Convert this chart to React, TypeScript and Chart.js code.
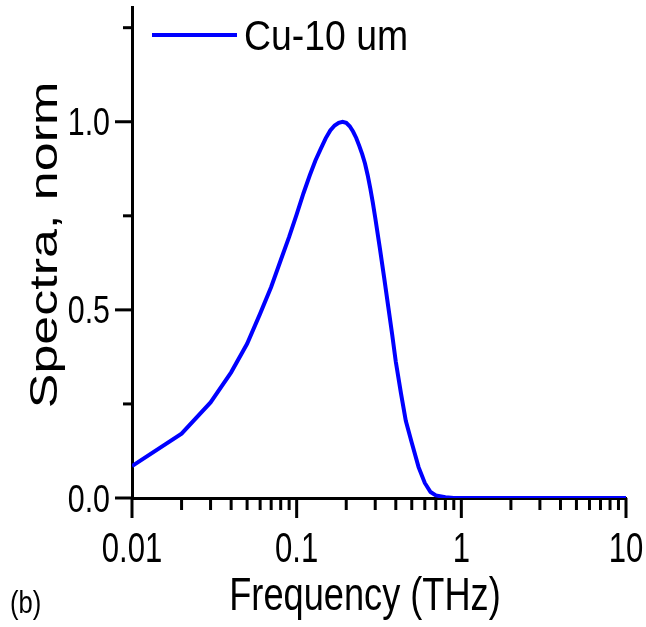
import React, { useEffect, useRef } from 'react';
import { Chart, registerables } from 'chart.js';

Chart.register(...registerables);

// ---- data ----
const frequencyTHz = [
  0.01, 0.02, 0.03, 0.04, 0.05, 0.06, 0.07, 0.08, 0.09, 0.1,
  0.11, 0.12, 0.13, 0.14, 0.15, 0.16, 0.17, 0.18, 0.19, 0.2,
  0.21, 0.22, 0.23, 0.24, 0.25, 0.26, 0.27, 0.28, 0.29, 0.3,
  0.32, 0.34, 0.36, 0.38, 0.4, 0.43, 0.46, 0.5, 0.55, 0.6,
  0.65, 0.7, 0.8, 0.9, 1, 2, 5, 10,
];
const spectraNorm = [
  0.085, 0.171, 0.254, 0.334, 0.41, 0.49, 0.561, 0.632, 0.694, 0.754,
  0.81, 0.857, 0.897, 0.928, 0.956, 0.977, 0.99, 0.997, 1.0, 0.997,
  0.988, 0.974, 0.957, 0.936, 0.914, 0.889, 0.858, 0.823, 0.785, 0.745,
  0.664, 0.585, 0.508, 0.435, 0.362, 0.278, 0.205, 0.147, 0.082, 0.04,
  0.016, 0.007, 0.002, 0.0, 0.0, 0.0, 0.0, 0.0,
];
const seriesLabel = 'Cu-10 um';
const seriesColor = '#0000FF';

const xMin = 0.01;
const xMax = 10;
const xMajorTicks = [0.01, 0.1, 1, 10];
const xTickLabels = ['0.01', '0.1', '1', '10'];
const yMin = 0;
const yMax = 1.305;
const yTickValues = [0, 0.25, 0.5, 0.75, 1.0, 1.25];
const yTickLabels = ['0.0', '', '0.5', '', '1.0', ''];
const xTitle = 'Frequency (THz)';
const yTitle = 'Spectra, norm';
const panelLabel = '(b)';

const SANS = "'Liberation Sans', Arial, sans-serif";

// minor + major x tick positions: every 1..9 multiple in each decade of the axis
function buildLogTicks(min: number, max: number): number[] {
  const out: number[] = [];
  const e0 = Math.round(Math.log10(min));
  const e1 = Math.round(Math.log10(max));
  for (let e = e0; e < e1; e++) {
    for (let m = 1; m <= 9; m++) out.push(parseFloat((m * Math.pow(10, e)).toPrecision(6)));
  }
  out.push(max);
  return out;
}
const xTickValues = buildLogTicks(xMin, xMax);

function isMajorX(v: number) {
  return xMajorTicks.some((m) => Math.abs(Math.log10(m) - Math.log10(v)) < 1e-6);
}
function xLabelFor(v: number) {
  const i = xMajorTicks.findIndex((m) => Math.abs(Math.log10(m) - Math.log10(v)) < 1e-6);
  return i >= 0 ? xTickLabels[i] : '';
}

function scaledText(
  ctx: CanvasRenderingContext2D,
  text: string,
  x: number,
  y: number,
  font: string,
  sx: number,
  align: CanvasTextAlign
) {
  ctx.save();
  ctx.translate(x, y);
  ctx.scale(sx, 1);
  ctx.font = font;
  ctx.textAlign = align;
  ctx.textBaseline = 'alphabetic';
  ctx.fillStyle = '#000';
  ctx.fillText(text, 0, 0);
  ctx.restore();
}

const decorPlugin = {
  id: 'decor',
  afterDraw(chart: any) {
    const ctx: CanvasRenderingContext2D = chart.ctx;
    const xs = chart.scales.x;
    const ys = chart.scales.y;
    const area = chart.chartArea;
    ctx.save();
    ctx.strokeStyle = '#000';
    ctx.lineWidth = 3;
    ctx.lineCap = 'butt';
    // x tick marks (outward) + labels
    xs.ticks.forEach((t: any) => {
      const px = xs.getPixelForValue(t.value);
      const len = isMajorX(t.value) ? 20 : 12;
      ctx.beginPath();
      ctx.moveTo(px, area.bottom);
      ctx.lineTo(px, area.bottom + len);
      ctx.stroke();
    });
    // y tick marks (outward)
    ys.ticks.forEach((t: any, i: number) => {
      const py = ys.getPixelForValue(t.value);
      const len = yTickLabels[i] ? 17 : 9;
      ctx.beginPath();
      ctx.moveTo(area.left, py);
      ctx.lineTo(area.left - len, py);
      ctx.stroke();
    });
    ctx.restore();

    // tick labels (condensed Arial-like, as in the reference)
    xs.ticks.forEach((t: any) => {
      if (!t.label) return;
      const px = xs.getPixelForValue(t.value);
      scaledText(ctx, String(t.label), px, area.bottom + 64, `42px ${SANS}`, 0.74, 'center');
    });
    ys.ticks.forEach((t: any) => {
      if (!t.label) return;
      const py = ys.getPixelForValue(t.value);
      scaledText(ctx, String(t.label), area.left - 22, py + 13.5, `38px ${SANS}`, 0.8, 'right');
    });

    // legend (inside plot)
    const ds = chart.data.datasets[0];
    ctx.save();
    ctx.strokeStyle = ds.borderColor;
    ctx.lineWidth = 4;
    ctx.beginPath();
    ctx.moveTo(152, 35);
    ctx.lineTo(237, 35);
    ctx.stroke();
    ctx.restore();
    scaledText(ctx, ds.label, 244, 50, `42px ${SANS}`, 0.89, 'left');

    // x title
    scaledText(ctx, xTitle, 365, 610, `47px ${SANS}`, 0.77, 'center');

    // y title (rotated)
    ctx.save();
    ctx.translate(57, 245);
    ctx.rotate(-Math.PI / 2);
    ctx.scale(1, 0.73);
    ctx.font = `52px ${SANS}`;
    ctx.textAlign = 'center';
    ctx.textBaseline = 'alphabetic';
    ctx.fillStyle = '#000';
    ctx.fillText(yTitle, 0, 0);
    ctx.restore();

    // panel label
    scaledText(ctx, panelLabel, 10, 613, `32px ${SANS}`, 0.8, 'left');
  },
};

export default function App() {
  const canvasRef = useRef<HTMLCanvasElement | null>(null);

  useEffect(() => {
    const canvas = canvasRef.current;
    if (!canvas) return;
    const chart = new Chart(canvas, {
      type: 'line',
      data: {
        datasets: [
          {
            label: seriesLabel,
            data: frequencyTHz.map((f, i) => ({ x: f, y: spectraNorm[i] })),
            borderColor: seriesColor,
            backgroundColor: seriesColor,
            borderWidth: 4,
            pointRadius: 0,
            tension: 0,
            fill: false,
          },
        ],
      },
      options: {
        responsive: false,
        animation: false,
        devicePixelRatio: 1,
        layout: { padding: { top: 7, right: 20, left: 0, bottom: 0 } },
        plugins: {
          legend: { display: false },
          tooltip: { enabled: false },
          title: { display: false },
        },
        scales: {
          x: {
            type: 'logarithmic',
            position: 'bottom',
            min: xMin,
            max: xMax,
            grid: { display: false },
            border: { display: true, color: '#000', width: 3 },
            ticks: {
              autoSkip: false,
              maxRotation: 0,
              minRotation: 0,
              color: 'rgba(0,0,0,0)',
              font: { family: SANS, size: 12 },
              callback: (v: any) => xLabelFor(Number(v)),
            },
            afterBuildTicks: (s: any) => {
              s.ticks = xTickValues.map((v) => ({ value: v }));
            },
            afterFit: (s: any) => {
              s.height = 129;
              s.paddingLeft = 0;
              s.paddingRight = 0;
            },
          },
          y: {
            type: 'linear',
            min: yMin,
            max: yMax,
            grid: { display: false },
            border: { display: true, color: '#000', width: 3 },
            ticks: {
              color: 'rgba(0,0,0,0)',
              font: { family: SANS, size: 12 },
              callback: (_v: any, i: number) => yTickLabels[i] ?? '',
            },
            afterBuildTicks: (s: any) => {
              s.ticks = yTickValues.map((v) => ({ value: v }));
            },
            afterFit: (s: any) => {
              s.width = 132;
              s.paddingTop = 0;
              s.paddingBottom = 0;
            },
          },
        },
      } as any,
      plugins: [decorPlugin],
    });
    return () => chart.destroy();
  }, []);

  return (
    <div style={{ position: 'absolute', left: 0, top: 0, width: 646, height: 627, background: '#fff' }}>
      <canvas ref={canvasRef} width={646} height={627} style={{ display: 'block', width: 646, height: 627 }} />
    </div>
  );
}
